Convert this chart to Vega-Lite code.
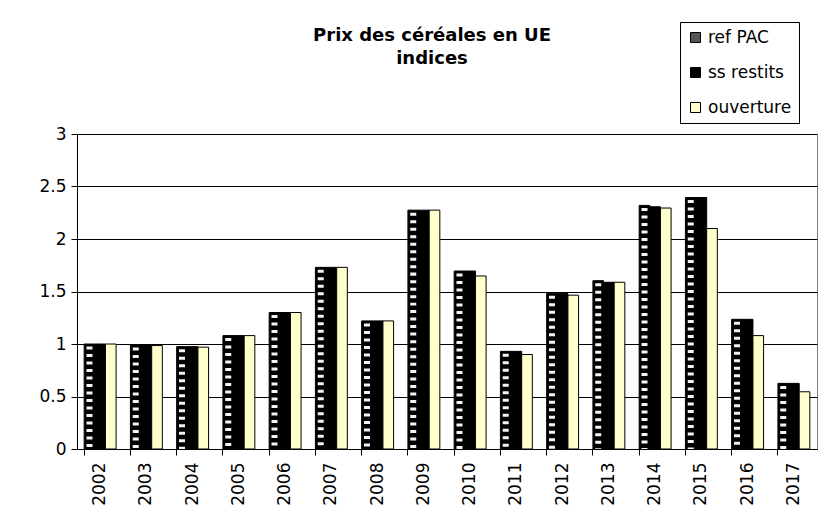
{
  "$schema": "https://vega.github.io/schema/vega-lite/v6.json",
  "width": 740,
  "height": 315,
  "autosize": {"type": "none"},
  "padding": {"left": 77, "top": 134, "right": 4, "bottom": 73},
  "background": "white",
  "title": {
    "text": ["Prix des céréales en UE", "indices"],
    "fontSize": 18,
    "font": "DejaVu Sans",
    "fontWeight": "bold",
    "lineHeight": 23,
    "offset": -46,
    "dx": -15,
    "anchor": "middle",
    "frame": "group",
    "color": "black"
  },
  "data": {
    "values": [
      {"year": "2002", "series": "ref PAC", "value": 1.0},
      {"year": "2002", "series": "ss restits", "value": 1.0},
      {"year": "2002", "series": "ouverture", "value": 1.0},
      {"year": "2003", "series": "ref PAC", "value": 0.99},
      {"year": "2003", "series": "ss restits", "value": 0.99},
      {"year": "2003", "series": "ouverture", "value": 0.985},
      {"year": "2004", "series": "ref PAC", "value": 0.975},
      {"year": "2004", "series": "ss restits", "value": 0.975},
      {"year": "2004", "series": "ouverture", "value": 0.97},
      {"year": "2005", "series": "ref PAC", "value": 1.08},
      {"year": "2005", "series": "ss restits", "value": 1.08},
      {"year": "2005", "series": "ouverture", "value": 1.08},
      {"year": "2006", "series": "ref PAC", "value": 1.3},
      {"year": "2006", "series": "ss restits", "value": 1.3},
      {"year": "2006", "series": "ouverture", "value": 1.3},
      {"year": "2007", "series": "ref PAC", "value": 1.73},
      {"year": "2007", "series": "ss restits", "value": 1.73},
      {"year": "2007", "series": "ouverture", "value": 1.73},
      {"year": "2008", "series": "ref PAC", "value": 1.22},
      {"year": "2008", "series": "ss restits", "value": 1.22},
      {"year": "2008", "series": "ouverture", "value": 1.22},
      {"year": "2009", "series": "ref PAC", "value": 2.275},
      {"year": "2009", "series": "ss restits", "value": 2.275},
      {"year": "2009", "series": "ouverture", "value": 2.275},
      {"year": "2010", "series": "ref PAC", "value": 1.695},
      {"year": "2010", "series": "ss restits", "value": 1.695},
      {"year": "2010", "series": "ouverture", "value": 1.648},
      {"year": "2011", "series": "ref PAC", "value": 0.93},
      {"year": "2011", "series": "ss restits", "value": 0.93},
      {"year": "2011", "series": "ouverture", "value": 0.9},
      {"year": "2012", "series": "ref PAC", "value": 1.483},
      {"year": "2012", "series": "ss restits", "value": 1.48},
      {"year": "2012", "series": "ouverture", "value": 1.465},
      {"year": "2013", "series": "ref PAC", "value": 1.603},
      {"year": "2013", "series": "ss restits", "value": 1.588},
      {"year": "2013", "series": "ouverture", "value": 1.588},
      {"year": "2014", "series": "ref PAC", "value": 2.32},
      {"year": "2014", "series": "ss restits", "value": 2.307},
      {"year": "2014", "series": "ouverture", "value": 2.295},
      {"year": "2015", "series": "ref PAC", "value": 2.395},
      {"year": "2015", "series": "ss restits", "value": 2.395},
      {"year": "2015", "series": "ouverture", "value": 2.1},
      {"year": "2016", "series": "ref PAC", "value": 1.235},
      {"year": "2016", "series": "ss restits", "value": 1.235},
      {"year": "2016", "series": "ouverture", "value": 1.08},
      {"year": "2017", "series": "ref PAC", "value": 0.625},
      {"year": "2017", "series": "ss restits", "value": 0.625},
      {"year": "2017", "series": "ouverture", "value": 0.545}
    ]
  },
  "encoding": {
    "x": {
      "field": "year",
      "type": "nominal",
      "scale": {"paddingInner": 0.31, "paddingOuter": 0.155},
      "axis": {
        "title": null,
        "labelAngle": 270,
        "labelAlign": "right",
        "labelBaseline": "middle",
        "labelFontSize": 17,
        "bandPosition": 0,
        "tickSize": 6,
        "labelPadding": 7,
        "domainColor": "black",
        "tickColor": "black",
        "labelColor": "black"
      }
    },
    "xOffset": {
      "field": "series",
      "type": "nominal",
      "scale": {"domain": ["ref PAC", "ss restits", "ouverture"]}
    },
    "y": {
      "field": "value",
      "type": "quantitative",
      "scale": {"domain": [0, 3]},
      "axis": {
        "title": null,
        "values": [0, 0.5, 1, 1.5, 2, 2.5, 3],
        "format": "~f",
        "labelFontSize": 17,
        "labelColor": "black",
        "tickColor": "black",
        "domainColor": "black",
        "gridColor": "black",
        "tickSize": 6,
        "labelPadding": 5,
        "grid": true
      }
    }
  },
  "layer": [
    {
      "mark": {"type": "bar", "stroke": "black", "strokeWidth": 1, "opacity": 1},
      "encoding": {
        "fill": {
          "field": "series",
          "type": "nominal",
          "scale": {"domain": ["ref PAC", "ss restits", "ouverture"], "range": ["#000000", "#000000", "#FFFFCC"]},
          "legend": null
        }
      }
    },
    {
      "transform": [{"filter": "datum.series === 'ref PAC'"}],
      "mark": {"type": "rule", "stroke": "#f4f4f4", "strokeWidth": 6, "strokeDash": [3, 4.5], "strokeDashOffset": 5},
      "encoding": {"y2": {"datum": 0}}
    },
    {
      "mark": {"type": "point", "filled": true, "size": 0, "shape": "square", "opacity": 1},
      "encoding": {
        "color": {
          "field": "series",
          "type": "nominal",
          "scale": {"domain": ["ref PAC", "ss restits", "ouverture"], "range": ["#555555", "#000000", "#FFFFCC"]},
          "legend": {
            "title": null,
            "orient": "none",
            "legendX": 603,
            "legendY": -112,
            "symbolType": "square",
            "symbolSize": 100,
            "symbolStrokeColor": "black",
            "symbolStrokeWidth": 1,
            "symbolOpacity": 1,
            "labelFontSize": 17,
            "labelColor": "black",
            "labelOffset": 4,
            "strokeColor": "black",
            "fillColor": "white",
            "padding": 7,
            "rowPadding": 17
          }
        }
      }
    }
  ],
  "resolve": {
    "legend": {"fill": "independent", "color": "independent"},
    "scale": {"fill": "independent", "color": "independent"}
  },
  "config": {
    "font": "DejaVu Sans",
    "view": {"stroke": "#808080"},
    "axis": {"labelFont": "DejaVu Sans"},
    "legend": {"labelFont": "DejaVu Sans"}
  }
}
